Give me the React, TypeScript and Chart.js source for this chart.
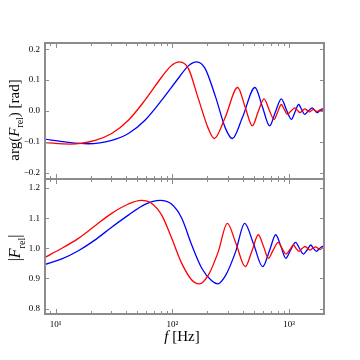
import React, { useEffect, useRef } from 'react';
import { Chart, registerables } from 'chart.js';
Chart.register(...registerables);

// ---- data ----
const xRange = [8.1, 1995];
const xMajorTicks = [10, 100, 1000];
const xMinorTicks = [9, 20, 30, 40, 50, 60, 70, 80, 90, 200, 300, 400, 500, 600, 700, 800, 900];
const yTopTicks = [-0.2, -0.1, 0.0, 0.1, 0.2];
const yBotTicks = [0.8, 0.9, 1.0, 1.1, 1.2];

const redTopF = [8, 13.3, 21.8, 30.2, 42, 58.3, 81.1, 98.8, 114.8, 137.1, 167, 203.4, 229, 283, 363, 420, 485, 542, 611, 674, 744, 800, 859, 912, 967, 1040, 1125, 1182, 1242, 1300, 1370, 1430, 1490, 1550, 1615, 1680, 1740, 1800, 1860, 1920, 1985, 2000];
const redTopV = [-0.102, -0.107, -0.095, -0.073, -0.030, 0.035, 0.110, 0.148, 0.159, 0.138, 0.040, -0.057, -0.089, -0.022, 0.076, 0.014, -0.048, -0.004, 0.039, 0.005, -0.027, -0.003, 0.021, 0.005, -0.011, 0.000, 0.010, 0.002, -0.005, 0.001, 0.007, 0.002, -0.003, 0.001, 0.005, 0.001, -0.002, 0.001, 0.004, 0.001, -0.001, 0.0];

const blueTopF = [8, 12, 19, 30.2, 42, 58.3, 81.1, 114.8, 137.1, 161.7, 190.6, 235, 286, 326.6, 398, 511, 591, 682, 763, 860, 948, 1047, 1126, 1209, 1283, 1361, 1463, 1583, 1663, 1748, 1829, 1928, 2000];
const blueTopV = [-0.091, -0.100, -0.106, -0.095, -0.073, -0.030, 0.035, 0.110, 0.146, 0.159, 0.138, 0.045, -0.057, -0.089, -0.022, 0.076, 0.014, -0.048, -0.004, 0.039, 0.005, -0.027, -0.003, 0.021, 0.005, -0.011, 0.000, 0.010, 0.002, -0.005, 0.001, 0.007, 0.004];

const redBotF = [8, 11.3, 15.65, 21.8, 30.2, 42, 54, 66.6, 81.1, 98.8, 120.4, 146.6, 170.4, 203.4, 247.7, 296, 351.6, 422, 482, 546, 605, 665, 729, 809, 871, 942, 1020, 1089, 1148, 1218, 1292, 1370, 1440, 1514, 1596, 1694, 1773, 1843, 1918, 2000];
const redBotV = [0.969, 1.000, 1.033, 1.075, 1.116, 1.147, 1.159, 1.149, 1.110, 1.033, 0.950, 0.895, 0.882, 0.911, 0.989, 1.083, 1.015, 0.939, 0.992, 1.045, 1.006, 0.967, 0.993, 1.020, 1.000, 0.981, 0.996, 1.011, 1.000, 0.990, 0.999, 1.006, 1.000, 0.994, 1.000, 1.005, 1.000, 0.996, 1.000, 1.002];

const blueBotF = [8, 11.3, 15.65, 21.8, 30.2, 42, 58.3, 78.6, 98.8, 120.4, 146.6, 178.7, 217.6, 244.8, 287, 349, 417, 496, 595, 680, 770, 853, 938, 1028, 1141, 1228, 1328, 1438, 1535, 1619, 1717, 1822, 1932, 2000];
const blueBotV = [0.946, 0.965, 0.992, 1.028, 1.070, 1.110, 1.146, 1.159, 1.146, 1.100, 1.011, 0.934, 0.892, 0.882, 0.911, 0.989, 1.083, 1.015, 0.939, 0.992, 1.045, 1.006, 0.967, 0.993, 1.020, 1.000, 0.981, 0.996, 1.011, 1.000, 0.990, 0.999, 1.006, 1.003];

const supers: Record<number, string> = { 10: '10\u00b9', 100: '10\u00b2', 1000: '10\u00b3' };

const FONT = "'Liberation Serif', 'DejaVu Serif', 'Times New Roman', serif";
const AXIS_COLOR = '#8c8c8c';
const RED = '#ff0000';
const BLUE = '#0000ff';

const pts = (f: number[], v: number[]) => f.map((x, i) => ({ x, y: v[i] }));

const frameTicks = {
  id: 'frameTicks',
  afterDatasetsDraw(chart: any) {
    const { ctx, chartArea: a, scales } = chart;
    const xs = scales.x;
    const ys = scales.y;
    const yTicks: number[] = chart.options.plugins.frameTicks.yTicks;
    ctx.save();
    ctx.strokeStyle = AXIS_COLOR;
    ctx.lineWidth = 1;
    ctx.beginPath();
    const xt = (v: number, len: number) => {
      const px = Math.round(xs.getPixelForValue(v)) + 0.5;
      ctx.moveTo(px, a.bottom);
      ctx.lineTo(px, a.bottom - len);
      ctx.moveTo(px, a.top);
      ctx.lineTo(px, a.top + len);
    };
    xMinorTicks.forEach((v) => xt(v, 3));
    xMajorTicks.forEach((v) => xt(v, 5));
    yTicks.forEach((v) => {
      const py = Math.round(ys.getPixelForValue(v)) + 0.5;
      ctx.moveTo(a.left, py);
      ctx.lineTo(a.left + 4, py);
      ctx.moveTo(a.right, py);
      ctx.lineTo(a.right - 4, py);
    });
    ctx.stroke();
    ctx.lineWidth = 2;
    ctx.strokeRect(a.left, a.top, a.right - a.left, a.bottom - a.top);
    ctx.restore();
  },
};

const fmtY = (v: number) => {
  const r = Math.round(v * 10) / 10;
  const s = Math.abs(r).toFixed(1);
  return r < 0 ? '\u2212' + s : s;
};

function makeChart(canvas: HTMLCanvasElement, top: boolean) {
  const yTicks = top ? yTopTicks : yBotTicks;
  const datasets = top
    ? [
        { data: pts(redTopF, redTopV), borderColor: RED },
        { data: pts(blueTopF, blueTopV), borderColor: BLUE },
      ]
    : [
        { data: pts(redBotF, redBotV), borderColor: RED },
        { data: pts(blueBotF, blueBotV), borderColor: BLUE },
      ];
  return new Chart(canvas, {
    type: 'line',
    data: {
      datasets: datasets.map((d) => ({
        ...d,
        borderWidth: 1.3,
        pointRadius: 0,
        fill: false,
        cubicInterpolationMode: 'monotone' as const,
      })),
    },
    options: {
      animation: false,
      responsive: false,
      maintainAspectRatio: false,
      layout: { padding: top ? { top: 43, right: 36, bottom: 1, left: 0 } : { top: 0, right: 36, bottom: 26, left: 0 } },
      plugins: {
        legend: { display: false },
        tooltip: { enabled: false },
        frameTicks: { yTicks },
      } as any,
      scales: {
        x: {
          type: 'logarithmic',
          min: xRange[0],
          max: xRange[1],
          display: !top,
          grid: { display: false, drawTicks: false },
          border: { display: false },
          afterBuildTicks: (s: any) => {
            s.ticks = xMajorTicks.map((v) => ({ value: v }));
          },
          afterFit: (s: any) => {
            s.height = top ? 0 : 20;
            s.paddingLeft = 0;
            s.paddingRight = 0;
          },
          ticks: {
            autoSkip: false,
            maxRotation: 0,
            padding: 5,
            color: '#000',
            font: { family: FONT, size: 9 },
            callback: (v: any) => supers[Number(v)] ?? '',
          },
        },
        y: {
          min: top ? -0.22 : 0.782,
          max: top ? 0.22 : 1.23,
          grid: { display: false, drawTicks: false },
          border: { display: false },
          afterBuildTicks: (s: any) => {
            s.ticks = yTicks.map((v) => ({ value: v }));
          },
          afterFit: (s: any) => {
            s.width = 45;
            s.paddingTop = 0;
            s.paddingBottom = 0;
          },
          ticks: {
            padding: 5,
            color: '#000',
            font: { family: FONT, size: 9 },
            callback: (v: any) => fmtY(Number(v)),
          },
        },
      },
    } as any,
    plugins: [frameTicks as any],
  });
}

export default function App() {
  const topRef = useRef<HTMLCanvasElement>(null);
  const botRef = useRef<HTMLCanvasElement>(null);

  useEffect(() => {
    document.body.style.margin = '0';
    const c1 = makeChart(topRef.current!, true);
    const c2 = makeChart(botRef.current!, false);
    return () => {
      c1.destroy();
      c2.destroy();
    };
  }, []);

  const titleStyle: React.CSSProperties = {
    position: 'absolute',
    fontFamily: FONT,
    color: '#000',
    whiteSpace: 'nowrap',
    lineHeight: 1,
  };

  return (
    <div style={{ position: 'relative', width: 360, height: 360, background: '#fff', overflow: 'hidden' }}>
      <canvas ref={topRef} width={360} height={180} style={{ position: 'absolute', left: 0, top: 0, width: 360, height: 180 }} />
      <canvas ref={botRef} width={360} height={181} style={{ position: 'absolute', left: 0, top: 179, width: 360, height: 181 }} />
      <div style={{ ...titleStyle, left: 16, top: 120, fontSize: 15, transform: 'translate(-50%, -50%) rotate(-90deg)' }}>
        arg(<i>F</i><sub style={{ fontSize: 10 }}>rel</sub>) [rad]
      </div>
      <div style={{ ...titleStyle, left: 17, top: 248, fontSize: 16, transform: 'translate(-50%, -50%) rotate(-90deg)' }}>
        |<i>F</i><sub style={{ fontSize: 10 }}>rel</sub>|
      </div>
      <div style={{ ...titleStyle, left: 182, top: 336, fontSize: 15, transform: 'translate(-50%, -50%)' }}>
        <i>f</i> [Hz]
      </div>
    </div>
  );
}
